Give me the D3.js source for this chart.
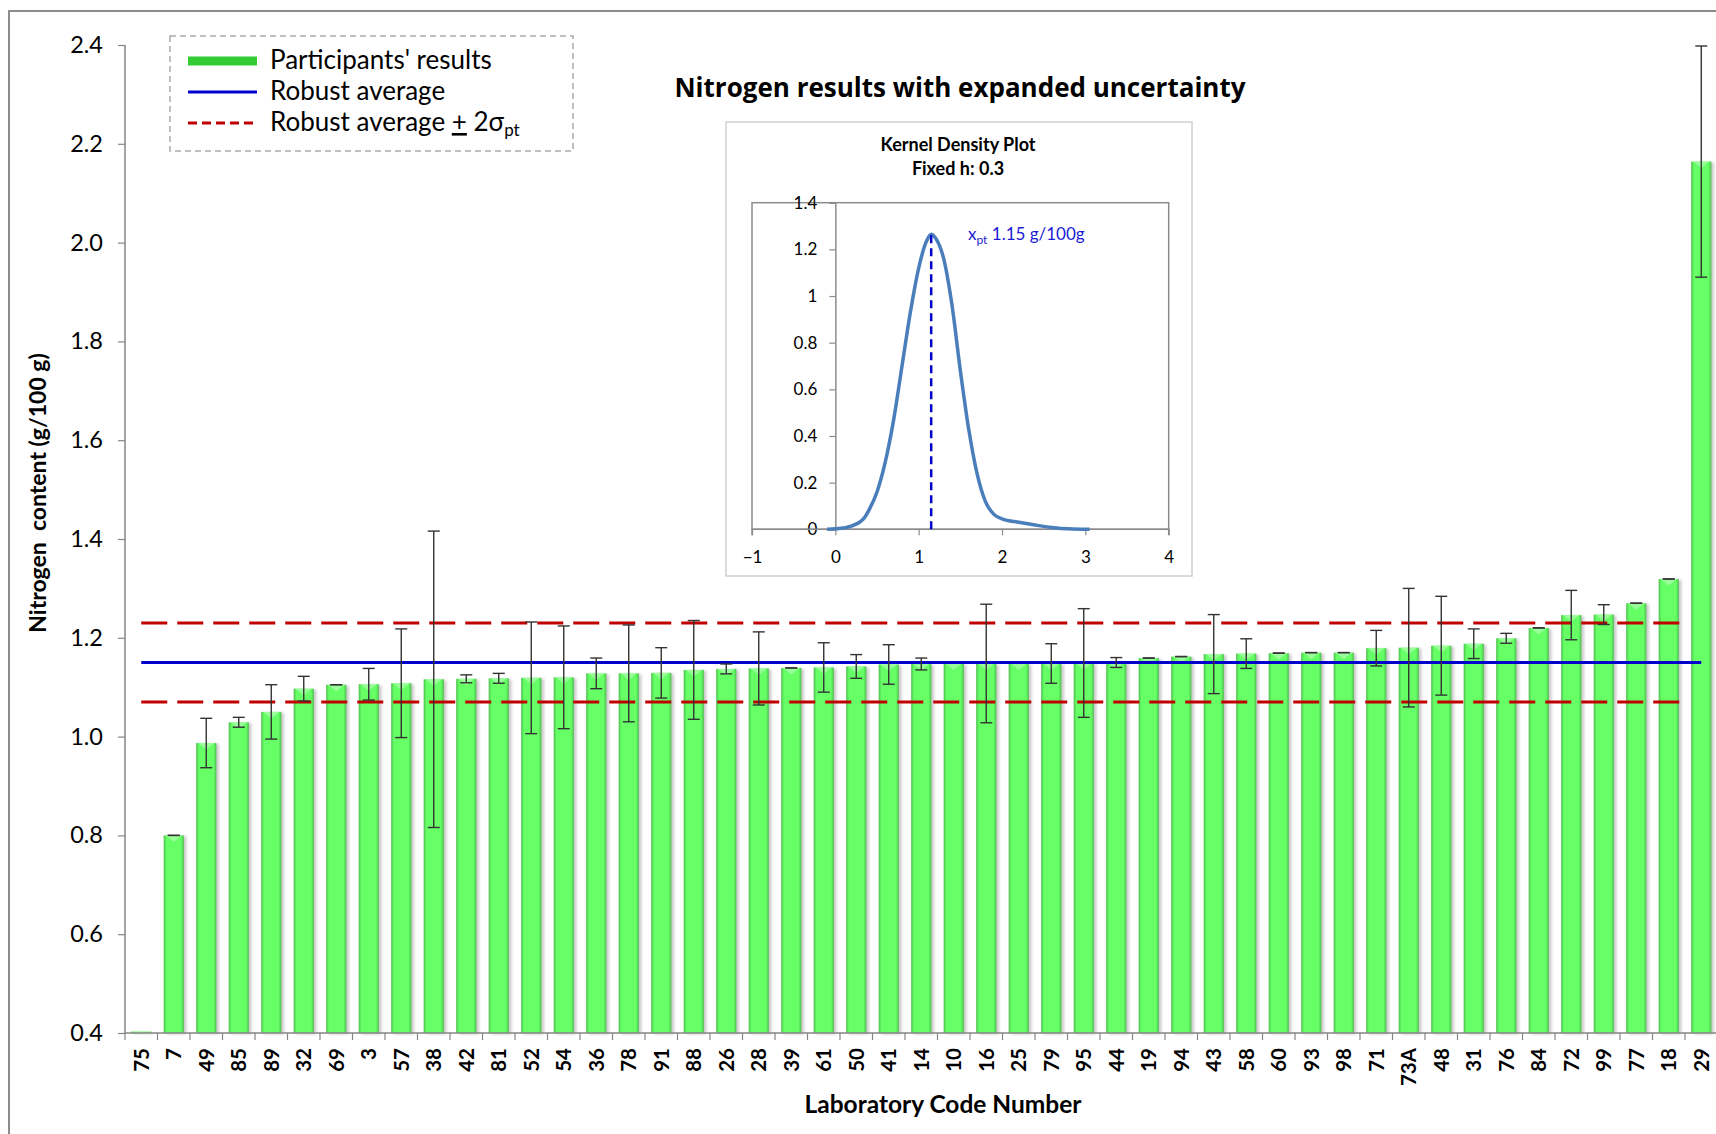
<!DOCTYPE html>
<html>
<head>
<meta charset="utf-8">
<script src="https://cdn.jsdelivr.net/npm/d3@7"></script>
<style>
  body { margin: 0; background: #fff; }
  text { font-family: Lato, "Open Sans", sans-serif; fill: #000; }
</style>
</head>
<body>
<svg width="1716" height="1134"></svg>
<script>
// laboratory codes, sorted by result
var labCodes = ["75","7","49","85","89","32","69","3","57","38","42","81","52","54","36","78","91","88",
  "26","28","39","61","50","41","14","10","16","25","79","95","44","19","94","43","58","60","93","98",
  "71","73A","48","31","76","84","72","99","77","18","29"];
// nitrogen results, g/100 g
var results = [0.403,0.80,0.987,1.029,1.05,1.097,1.105,1.106,1.108,1.116,1.117,1.118,1.119,1.12,1.128,1.128,1.129,1.135,
  1.137,1.138,1.139,1.14,1.142,1.146,1.147,1.148,1.148,1.148,1.148,1.149,1.15,1.159,1.162,1.167,1.168,1.169,1.17,1.17,
  1.179,1.18,1.184,1.188,1.199,1.22,1.246,1.247,1.27,1.319,2.164];
// expanded uncertainty (null = not reported)
var expandedU = [null,0,0.05,0.01,0.055,0.025,0,0.032,0.11,0.30,0.008,0.01,0.113,0.104,0.031,0.098,0.051,0.10,
  0.01,0.074,0,0.05,0.024,0.04,0.012,null,0.12,null,0.04,0.11,0.01,0,0,0.08,0.03,0,0,0,
  0.036,0.12,0.10,0.03,0.01,0,0.05,0.02,0,0,0.234];
var robustAverage = 1.15;
var limitLines = [1.07, 1.23];
var yTickValues = [0.4,0.6,0.8,1.0,1.2,1.4,1.6,1.8,2.0,2.2,2.4];

// kernel density inset
var densX = [-0.1,0,0.2,0.35,0.4,0.5,0.6,0.7,0.8,0.9,1.0,1.1,1.15,1.2,1.3,1.4,1.5,1.6,1.7,1.8,1.9,2.0,2.2,2.4,2.6,2.8,3.05];
var densY = [0,0.002,0.015,0.05,0.08,0.16,0.29,0.47,0.70,0.93,1.12,1.24,1.265,1.25,1.16,0.96,0.68,0.43,0.24,0.12,0.065,0.045,0.03,0.018,0.008,0.002,0];
var insetXTicks = [-1,0,1,2,3,4];
var insetYTicks = [0,0.2,0.4,0.6,0.8,1,1.2,1.4];
var xpt = 1.15, xptPeak = 1.265;

var svg = d3.select("svg");
var defs = svg.append("defs");

// bar look: green with darker edges and a soft shadow
var grad = defs.append("linearGradient").attr("id","barGrad").attr("x1",0).attr("x2",1).attr("y1",0).attr("y2",0);
grad.append("stop").attr("offset","0%").attr("stop-color","#4cbf4c");
grad.append("stop").attr("offset","14%").attr("stop-color","#66ff66");
grad.append("stop").attr("offset","86%").attr("stop-color","#66ff66");
grad.append("stop").attr("offset","100%").attr("stop-color","#4cbf4c");
defs.append("filter").attr("id","blur").append("feGaussianBlur").attr("stdDeviation",1.6);

// outer chart frame (runs off the right and bottom)
svg.append("rect").attr("x",9).attr("y",11).attr("width",1800).attr("height",1300)
  .attr("fill","none").attr("stroke","#8c8c8c").attr("stroke-width",2);

var x = d3.scaleBand().domain(labCodes).range([125, 1717.5]).paddingInner(0.38).paddingOuter(0.19);
var y = d3.scaleLinear().domain([0.4, 2.4]).range([1033, 45]);

// y axis
var yAxis = svg.append("g").attr("transform","translate(125,0)")
  .call(d3.axisLeft(y).tickValues(yTickValues).tickFormat(d3.format(".1f")).tickSize(7).tickPadding(15));
yAxis.select(".domain").attr("stroke","#868686").attr("stroke-width",1.5).attr("d","M0," + y(2.4) + "V" + y(0.4));
yAxis.selectAll(".tick line").attr("stroke","#868686").attr("stroke-width",1.2);
yAxis.selectAll(".tick text").attr("font-size",23.5).attr("font-family","Lato");

// bars
var bars = svg.append("g");
labCodes.forEach(function(c, i) {
  var x0 = x(c), bw = x.bandwidth(), top = y(results[i]), h = y(0.4) - top;
  bars.append("rect").attr("x", x0 + 2.5).attr("y", top + 1).attr("width", bw).attr("height", h)
    .attr("fill","#000").attr("opacity",0.22).attr("filter","url(#blur)");
  bars.append("rect").attr("x", x0).attr("y", top).attr("width", bw).attr("height", h)
    .attr("fill","url(#barGrad)");
  var d = Math.min(bw * 0.32, h);
  bars.append("path").attr("d","M" + (x0 + 2) + "," + top + "L" + (x0 + bw - 2) + "," + top + "L" + (x0 + bw / 2) + "," + (top + d) + "Z")
    .attr("fill","#a8ffa8").attr("opacity",0.8);
});

// x axis line and boundary ticks
svg.append("line").attr("x1",125).attr("x2",1716).attr("y1",y(0.4)).attr("y2",y(0.4))
  .attr("stroke","#868686").attr("stroke-width",1.5);
svg.append("g").selectAll("line").data(labCodes).enter().append("line")
  .attr("x1", function(d){ return x(d) - x.step() * 0.19; })
  .attr("x2", function(d){ return x(d) - x.step() * 0.19; })
  .attr("y1", y(0.4)).attr("y2", y(0.4) + 7)
  .attr("stroke","#868686").attr("stroke-width",1.2);

svg.append("g").selectAll("text").data(labCodes).enter().append("text")
  .attr("transform", function(d){ return "translate(" + (x(d) + x.bandwidth() / 2) + "," + (y(0.4) + 15) + ") rotate(-90)"; })
  .attr("text-anchor","end").attr("dy","0.36em")
  .attr("font-size",20.5).attr("font-weight","bold")
  .text(function(d){ return d; });

// reference lines
var xFirst = x(labCodes[0]) + x.bandwidth() / 2, xLast = x(labCodes[labCodes.length - 1]) + x.bandwidth() / 2;
limitLines.forEach(function(v) {
  svg.append("line").attr("x1", xFirst).attr("x2", xLast - 12).attr("y1", y(v)).attr("y2", y(v))
    .attr("stroke","#c00000").attr("stroke-width",3.2).attr("stroke-dasharray","26 10");
});
svg.append("line").attr("x1", xFirst).attr("x2", xLast).attr("y1", y(robustAverage)).attr("y2", y(robustAverage))
  .attr("stroke","#0000cc").attr("stroke-width",3);

// error bars
var err = svg.append("g").attr("stroke","#333").attr("stroke-width",1.4);
labCodes.forEach(function(c, i) {
  if (expandedU[i] === null) return;
  var cx = x(c) + x.bandwidth() / 2, hi = y(results[i] + expandedU[i]), lo = y(results[i] - expandedU[i]);
  err.append("line").attr("x1",cx).attr("x2",cx).attr("y1",hi).attr("y2",lo);
  err.append("line").attr("x1",cx - 6).attr("x2",cx + 6).attr("y1",hi).attr("y2",hi);
  err.append("line").attr("x1",cx - 6).attr("x2",cx + 6).attr("y1",lo).attr("y2",lo);
});

// axis titles and chart title
svg.append("text").attr("transform","translate(38,493) rotate(-90)").attr("text-anchor","middle").attr("dy","0.35em")
  .attr("font-size",23).attr("font-weight","bold").text("Nitrogen  content (g/100 g)").style("white-space","pre");
svg.append("text").attr("x",943).attr("y",1113).attr("text-anchor","middle")
  .attr("font-size",24.5).attr("font-weight","bold").text("Laboratory Code Number");
svg.append("text").attr("x",960).attr("y",97).attr("text-anchor","middle")
  .attr("font-size",26).attr("font-weight","bold").style("font-family","'Open Sans', sans-serif")
  .text("Nitrogen results with expanded uncertainty");

// legend
var lg = svg.append("g");
lg.append("rect").attr("x",170).attr("y",36).attr("width",403).attr("height",115)
  .attr("fill","#fff").attr("stroke","#aaa").attr("stroke-width",1.5).attr("stroke-dasharray","6 4");
lg.append("line").attr("x1",188).attr("x2",257).attr("y1",61).attr("y2",61).attr("stroke","#33cc33").attr("stroke-width",9);
lg.append("line").attr("x1",188).attr("x2",257).attr("y1",92).attr("y2",92).attr("stroke","#0000cc").attr("stroke-width",3);
lg.append("line").attr("x1",188).attr("x2",257).attr("y1",123).attr("y2",123).attr("stroke","#c00000").attr("stroke-width",3).attr("stroke-dasharray","9 5");
lg.append("text").attr("x",270).attr("y",69).attr("font-size",26).text("Participants' results");
lg.append("text").attr("x",270).attr("y",100).attr("font-size",26).text("Robust average");
var t3 = lg.append("text").attr("x",270).attr("y",131).attr("font-size",26);
t3.append("tspan").text("Robust average ");
t3.append("tspan").attr("text-decoration","underline").text("+");
t3.append("tspan").text(" 2σ");
t3.append("tspan").attr("font-size",17).attr("dy",5).text("pt");

// kernel density inset
var ins = svg.append("g");
ins.append("rect").attr("x",726).attr("y",122).attr("width",466).attr("height",454)
  .attr("fill","#fff").attr("stroke","#cfcfcf").attr("stroke-width",1.5);
ins.append("text").attr("x",958).attr("y",151).attr("text-anchor","middle").attr("font-size",18).attr("font-weight","bold").text("Kernel Density Plot");
ins.append("text").attr("x",958).attr("y",175).attr("text-anchor","middle").attr("font-size",18).attr("font-weight","bold").text("Fixed h: 0.3");

var ix = d3.scaleLinear().domain([-1, 4]).range([752, 1168.7]);
var iy = d3.scaleLinear().domain([0, 1.4]).range([529.3, 202.7]);
ins.append("rect").attr("x",ix(-1)).attr("y",iy(1.4)).attr("width",ix(4) - ix(-1)).attr("height",iy(0) - iy(1.4))
  .attr("fill","none").attr("stroke","#8c8c8c").attr("stroke-width",1.5);

var iyAxis = ins.append("g").attr("transform","translate(" + ix(0) + ",0)")
  .call(d3.axisLeft(iy).tickValues(insetYTicks).tickFormat(function(d){ return d3.format("~g")(d); }).tickSize(6).tickPadding(12));
var ixAxis = ins.append("g").attr("transform","translate(0," + iy(0) + ")")
  .call(d3.axisBottom(ix).tickValues(insetXTicks).tickFormat(d3.format("d")).tickSize(6).tickPadding(16));
[iyAxis, ixAxis].forEach(function(a) {
  a.select(".domain").attr("stroke","#8c8c8c").attr("stroke-width",1.5);
  a.selectAll(".tick line").attr("stroke","#8c8c8c").attr("stroke-width",1.2);
  a.selectAll(".tick text").attr("font-size",17).attr("font-family","Lato");
});
ixAxis.select(".domain").attr("d","M" + ix(-1) + ",6V0H" + ix(4) + "V6");

var dens = densX.map(function(v, i){ return [v, densY[i]]; });
ins.append("path").datum(dens)
  .attr("d", d3.line().x(function(d){ return ix(d[0]); }).y(function(d){ return iy(d[1]); }).curve(d3.curveMonotoneX))
  .attr("fill","none").attr("stroke","#4a7ebb").attr("stroke-width",3.5);
ins.append("line").attr("x1",ix(xpt)).attr("x2",ix(xpt)).attr("y1",iy(0)).attr("y2",iy(xptPeak))
  .attr("stroke","#0000cc").attr("stroke-width",2.5).attr("stroke-dasharray","8 5");
var xl = ins.append("text").attr("x",968).attr("y",240).attr("font-size",17).style("fill","#1c1cd4");
xl.append("tspan").text("x");
xl.append("tspan").attr("font-size",12).attr("dy",4).text("pt");
xl.append("tspan").attr("dy",-4).text(" 1.15 g/100g");
</script>
</body>
</html>
